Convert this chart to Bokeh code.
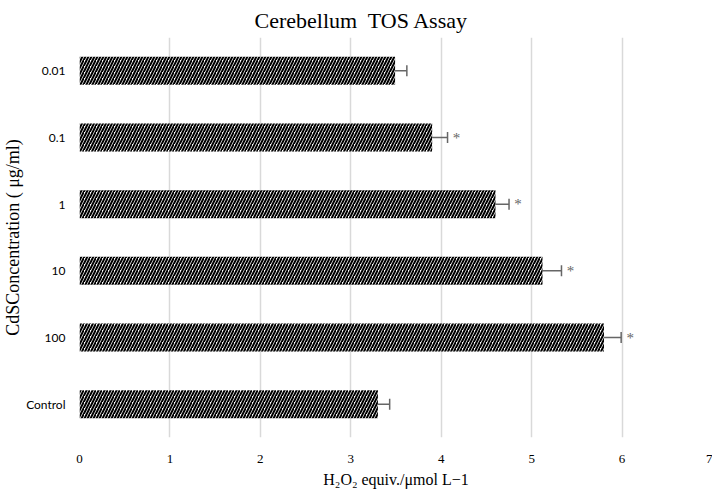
from bokeh.plotting import figure
from bokeh.models import ColumnDataSource, FactorRange, Whisker, TeeHead, Range1d, FixedTicker
from bokeh.core.properties import value
from bokeh.embed import file_html
from bokeh.resources import INLINE

# Data (bottom to top)
categories = ["Control", "100", "10", "1", "0.1", "0.01"]
tos_values = [3.30, 5.80, 5.12, 4.60, 3.90, 3.49]
tos_errors = [0.13, 0.19, 0.21, 0.15, 0.17, 0.13]
significance = ["", "*", "*", "*", "*", ""]
x_ticks = [0, 1, 2, 3, 4, 5, 6, 7]

lower = [v - e for v, e in zip(tos_values, tos_errors)]
upper = [v + e for v, e in zip(tos_values, tos_errors)]
star_x = [u + 0.1 for u in upper]

src = ColumnDataSource(dict(cat=categories, val=tos_values, lo=lower, hi=upper,
                            sx=star_x, star=significance))

SERIF = "Liberation Serif"
GREY = "#666666"

p = figure(frame_width=633, frame_height=400, output_backend="svg", toolbar_location=None,
           y_range=FactorRange(*categories), x_range=Range1d(0, 7),
           min_border_left=72, min_border_right=0, min_border_top=34,
           min_border_bottom=0)

p.hbar(y="cat", right="val", left=0, height=0.42, source=src,
       fill_color="white", line_color=None,
       hatch_pattern="/", hatch_color="black", hatch_scale=6, hatch_weight=2)

w = Whisker(base="cat", lower="lo", upper="hi", dimension="width", source=src,
            line_color=GREY, line_width=1.5,
            lower_head=None,
            upper_head=TeeHead(size=11, line_color=GREY, line_width=1.5))
p.add_layout(w)

p.text(x="sx", y="cat", text="star", source=src, text_color=GREY,
       text_font=value(SERIF), text_font_size="15px",
       text_align="center", text_baseline="middle")

# Title
p.title.text = "Cerebellum\u00a0 TOS Assay"
p.title.text_font = SERIF
p.title.text_font_style = "normal"
p.title.text_font_size = "22px"
p.title.text_color = "black"
p.title.align = "left"
p.title.offset = 175

# Axes
p.xaxis.ticker = FixedTicker(ticks=x_ticks)
p.xaxis.axis_label = "H\u2082O\u2082 equiv./\u03bcmol L\u22121"
p.xaxis.axis_label_text_font = SERIF
p.xaxis.axis_label_text_font_style = "normal"
p.xaxis.axis_label_text_font_size = "16px"
p.xaxis.axis_label_standoff = 5
p.xaxis.major_label_text_font = SERIF
p.xaxis.major_label_text_font_size = "13px"
p.xaxis.major_label_standoff = 11

p.yaxis.axis_label = "CdSConcentration ( \u03bcg/ml)"
p.yaxis.axis_label_text_font = SERIF
p.yaxis.axis_label_text_font_style = "normal"
p.yaxis.axis_label_text_font_size = "18px"
p.yaxis.axis_label_standoff = 0
p.yaxis.major_label_text_font = "Lato"
p.yaxis.major_label_text_font_size = "12px"
p.yaxis.major_label_standoff = 8

for ax in (p.xaxis[0], p.yaxis[0]):
    ax.axis_line_color = None
    ax.major_tick_line_color = None
    ax.minor_tick_line_color = None
    ax.major_label_text_color = "black"
    ax.axis_label_text_color = "black"

p.xgrid.ticker = FixedTicker(ticks=x_ticks)
p.xgrid.grid_line_color = "#d9d9d9"
p.xgrid.grid_line_width = 1.5
p.ygrid.grid_line_color = None
p.outline_line_color = None

open("out.html", "w").write(file_html(p, INLINE))
